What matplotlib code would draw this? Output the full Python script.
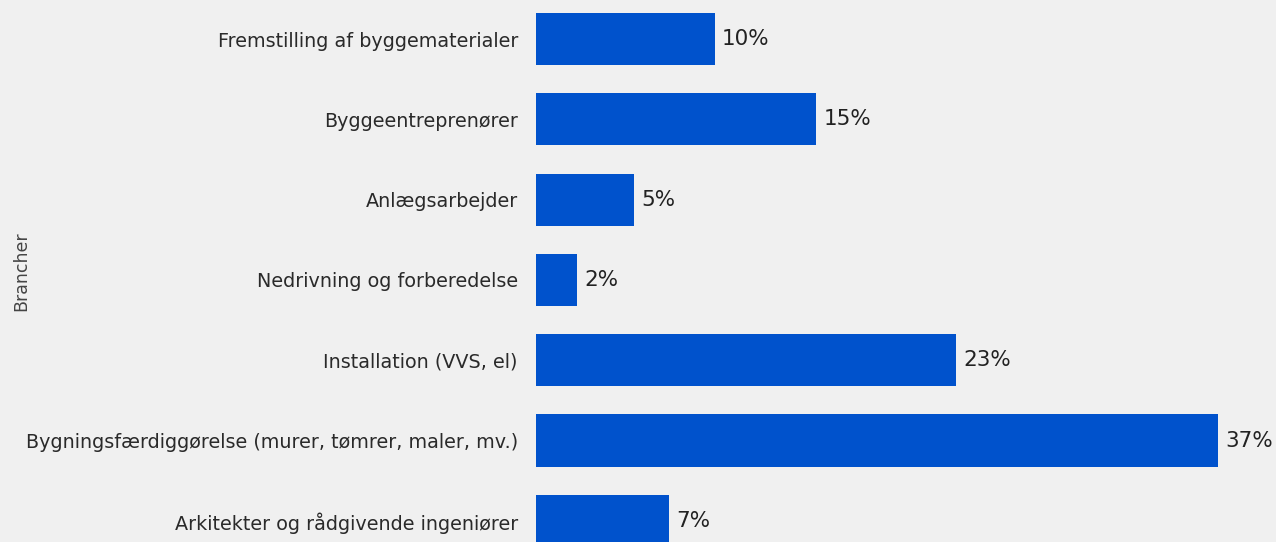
import matplotlib
matplotlib.use('Agg')
import matplotlib.pyplot as plt

categories = [
    'Fremstilling af byggematerialer',
    'Byggeentreprenører',
    'Anlægsarbejder',
    'Nedrivning og forberedelse',
    'Installation (VVS, el)',
    'Bygningsfærdiggørelse (murer, tømrer, maler, mv.)',
    'Arkitekter og rådgivende ingeniører',
]
values = [9.7, 15.2, 5.3, 2.2, 22.8, 37.0, 7.2]
labels = ['10%', '15%', '5%', '2%', '23%', '37%', '7%']

plt.rcParams['font.family'] = ['DejaVu Sans']

bg = '#f0f0f0'
fig = plt.figure(figsize=(12.76, 5.42), dpi=100, facecolor=bg)
ax = fig.add_axes([536 / 1276, 0, 1 - 536 / 1276, 1], facecolor=bg)

pos = list(range(len(categories)))
ax.barh(pos, values, height=0.65, color='#0052cc')
for p, v, lab in zip(pos, values, labels):
    ax.text(v + 0.4, p, lab, va='center', ha='left', fontsize=15.5, color='#222222')

ax.set_ylim(6.264, -0.486)
ax.set_xlim(0, 40.15)
ax.set_yticks(pos)
ax.set_yticklabels(categories, fontsize=13.8, color='#2a2a2a')
ax.tick_params(axis='y', length=0, pad=13)
ax.set_xticks([])
for s in ax.spines.values():
    s.set_visible(False)

fig.text(21 / 1276, 0.5, 'Brancher', rotation=90, va='center', ha='center',
         fontsize=12.5, color='#444444')

fig.savefig('out.png', dpi=100, facecolor=bg)
